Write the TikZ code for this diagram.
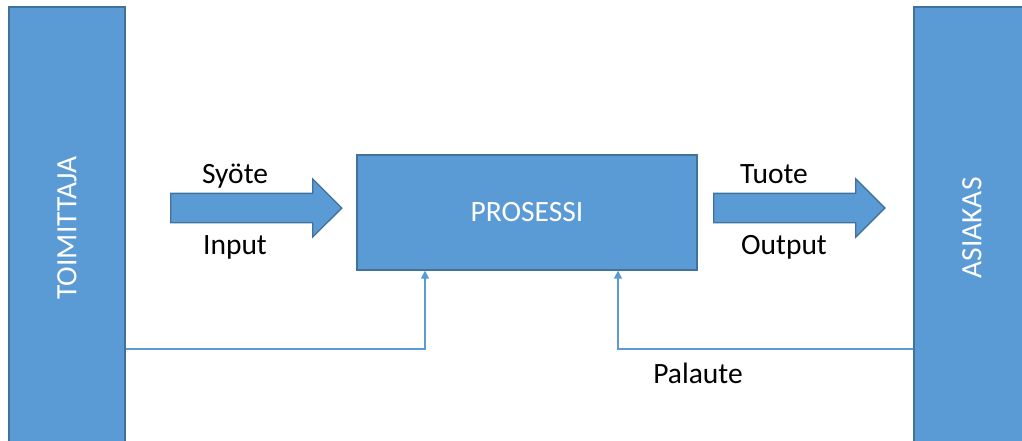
\documentclass[tikz,border=0pt]{standalone}
\usepackage{fontspec}
\setmainfont{Carlito}
\usetikzlibrary{shapes.arrows,arrows.meta}
\definecolor{fillblue}{HTML}{5B9BD5}
\definecolor{edgeblue}{HTML}{41719C}
\begin{document}
\begin{tikzpicture}[x=1pt,y=-1pt,
  bigfont/.style={font=\fontsize{29.5}{34}\selectfont},
  blueshape/.style={fill=fillblue,draw=edgeblue,line width=1.3pt},
  bar/.style={blueshape,rotate=90,minimum width=442pt,minimum height=116pt,inner sep=0pt,text=white,bigfont},
  flow/.style={blueshape,single arrow,single arrow head extend=14.5pt,single arrow head indent=0pt,minimum height=171pt,minimum width=57pt,inner xsep=0pt,inner ysep=14pt,shape border rotate=0},
  feedback/.style={draw=fillblue,line width=1.2pt,-{Triangle[width=8pt,length=8pt]}},
  lbl/.style={anchor=base,bigfont,text=black}
]
\useasboundingbox (0,0) rectangle (1022,441);
\clip (0,0) rectangle (1022,441);
\node[bar] (supplier) at (67,228) {TOIMITTAJA};
\node[bar] (customer) at (972,228) {ASIAKAS};
\node[blueshape,minimum width=340pt,minimum height=115pt,inner sep=0pt,text=white,bigfont] (process) at (527,212.5) {PROSESSI};
\node[flow] (inarrow) at (249,208) {};
\node[flow] (outarrow) at (792,208) {};
\node[lbl] (syote) at (235,183) {Syöte};
\node[lbl] (input) at (235,254) {Input};
\node[lbl] (tuote) at (774,183) {Tuote};
\node[lbl] (output) at (784,254) {Output};
\node[lbl] (palaute) at (698,383) {Palaute};
\coordinate (fbl) at (425,349);
\coordinate (fbr) at (618,349);
\draw[feedback] (supplier.south |- fbl) -- (fbl) -- (process.south -| fbl);
\draw[feedback] (customer.north |- fbr) -- (fbr) -- (process.south -| fbr);
\end{tikzpicture}
\end{document}
